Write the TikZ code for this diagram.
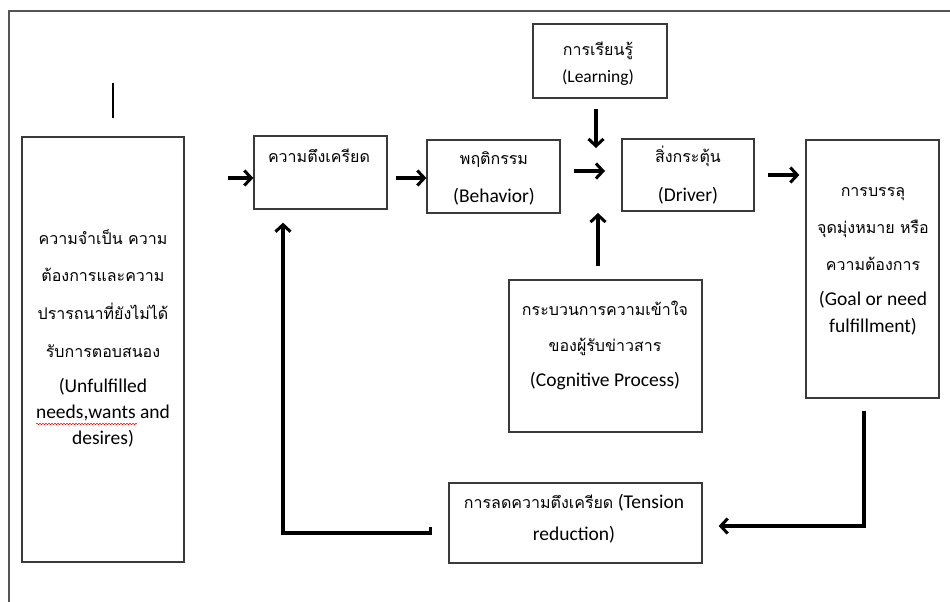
\documentclass[tikz,border=0pt]{standalone}
\usepackage{fontspec}
\setmainfont{Carlito}
\newfontfamily\thaifnt[Script=Thai]{Loma}
\newcommand\thtxt[1]{{\thaifnt\fontsize{16}{18}\selectfont #1}}
\usetikzlibrary{arrows.meta,decorations.pathmorphing}
\definecolor{boxcol}{HTML}{3A3A3A}
\definecolor{framecol}{HTML}{555555}
\begin{document}
\begin{tikzpicture}[x=1pt,y=-1pt,
  box/.style={draw=boxcol, line width=1.3pt, inner sep=0pt},
  arr/.style={line width=3.2pt, -{Straight Barb[length=7pt,width=15pt,line width=3pt]}},
  ln/.style={inner sep=0pt, text height=.68em, text depth=.2em, font=\fontsize{19.5}{21}\selectfont},
  lnsmall/.style={ln, font=\fontsize{17.5}{19}\selectfont},
  th/.style={inner sep=0pt, text height=.68em, text depth=.2em, font=\thaifnt\fontsize{16}{18}\selectfont},
]
\useasboundingbox (0,0) rectangle (950,602);
% outer frame
\coordinate (f1) at (9,602);
\coordinate (f2) at (9,11);
\coordinate (f3) at (950,11);
\draw[framecol, line width=1.5pt] (f1) -- (f2) -- (f3);
% small vertical mark
\coordinate (v1) at (113,83);
\coordinate (v2) at (113,118);
\draw[line width=2pt] (v1) -- (v2);

% boxes
\node[box, minimum width=134pt, minimum height=74pt] (learn) at (600,61) {};
\node[box, minimum width=162pt, minimum height=425pt] (need) at (103,349.5) {};
\node[box, minimum width=133pt, minimum height=73pt] (tens) at (320.5,172.5) {};
\node[box, minimum width=133pt, minimum height=73pt] (beh) at (493.5,176.5) {};
\node[box, minimum width=132pt, minimum height=72pt] (drv) at (688,175) {};
\node[box, minimum width=133pt, minimum height=258pt] (goal) at (872.5,269) {};
\node[box, minimum width=193pt, minimum height=152pt] (cog) at (605.5,356) {};
\node[box, minimum width=253pt, minimum height=80pt] (red) at (575.5,523) {};

% texts
\node[th] (learnA) at (598,53) {การเรียนรู้};
\node[lnsmall] (learnB) at (598,80) {(Learning)};

\node[th] (needA) at (103,242) {ความจำเป็น ความ};
\node[th] (needB) at (103,279) {ต้องการและความ};
\node[th] (needC) at (103,317) {ปรารถนาที่ยังไม่ได้};
\node[th] (needD) at (103,355) {รับการตอบสนอง};
\node[ln] (needE) at (103,390) {(Unfulfilled};
\node[ln] (needF) at (103,416) {needs,wants and};
\node[ln] (needG) at (103,442) {desires)};
\coordinate (sq1) at (36,424);
\coordinate (sq2) at (137,424);
\draw[red, line width=0.5pt, decorate, decoration={snake, segment length=3pt, amplitude=0.8pt}] (sq1) -- (sq2);

\node[th] (tensA) at (319,160) {ความตึงเครียด};

\node[th] (behA) at (494,162) {พฤติกรรม};
\node[ln] (behB) at (494,200) {(Behavior)};

\node[th] (drvA) at (688,160) {สิ่งกระตุ้น};
\node[ln] (drvB) at (688,199) {(Driver)};

\node[th] (goalA) at (873,194) {การบรรลุ};
\node[th] (goalB) at (873,231) {จุดมุ่งหมาย หรือ};
\node[th] (goalC) at (873,268) {ความต้องการ};
\node[ln] (goalD) at (873,303) {(Goal or need};
\node[ln] (goalE) at (873,330) {fulfillment)};

\node[th] (cogA) at (605,313) {กระบวนการความเข้าใจ};
\node[th] (cogB) at (605,349) {ของผู้รับข่าวสาร};
\node[ln] (cogC) at (605,384) {(Cognitive Process)};

\node[ln] (redA) at (574,506) {\thtxt{การลดความตึงเครียด} (Tension};
\node[ln] (redB) at (574,538) {reduction)};

% connectors
\coordinate (s0) at (228,178);
\draw[arr] (s0) -- (s0 -| tens.west);

\coordinate (p1) at ([yshift=-5.5pt]tens.east);
\draw[arr, shorten <=8pt] (p1) -- (p1 -| beh.west);

\coordinate (jb) at (605,171);
\coordinate (p2) at (beh.east |- jb);
\draw[arr, shorten <=13pt] (p2) -- (jb);

\coordinate (jl) at (596,148);
\draw[arr, shorten <=10pt] (learn.south -| jl) -- (jl);

\coordinate (jc) at (598,213);
\draw[arr, shorten <=13pt] (cog.north -| jc) -- (jc);

\draw[arr, shorten <=13pt, shorten >=6pt] (drv.east) -- (drv.east -| goal.west);

\coordinate (g1) at ([xshift=-8.5pt]goal.south);
\coordinate (r1) at ([yshift=-3pt]red.east);
\draw[arr, shorten <=12pt, shorten >=16pt] (g1) |- (r1);

\coordinate (r2) at ([xshift=-18pt,yshift=-4pt]red.west);
\coordinate (t2) at ([xshift=-37.5pt]tens.south);
\draw[arr, shorten >=13pt] (r2) -- ++(0,6) -| (t2);
\end{tikzpicture}
\end{document}
